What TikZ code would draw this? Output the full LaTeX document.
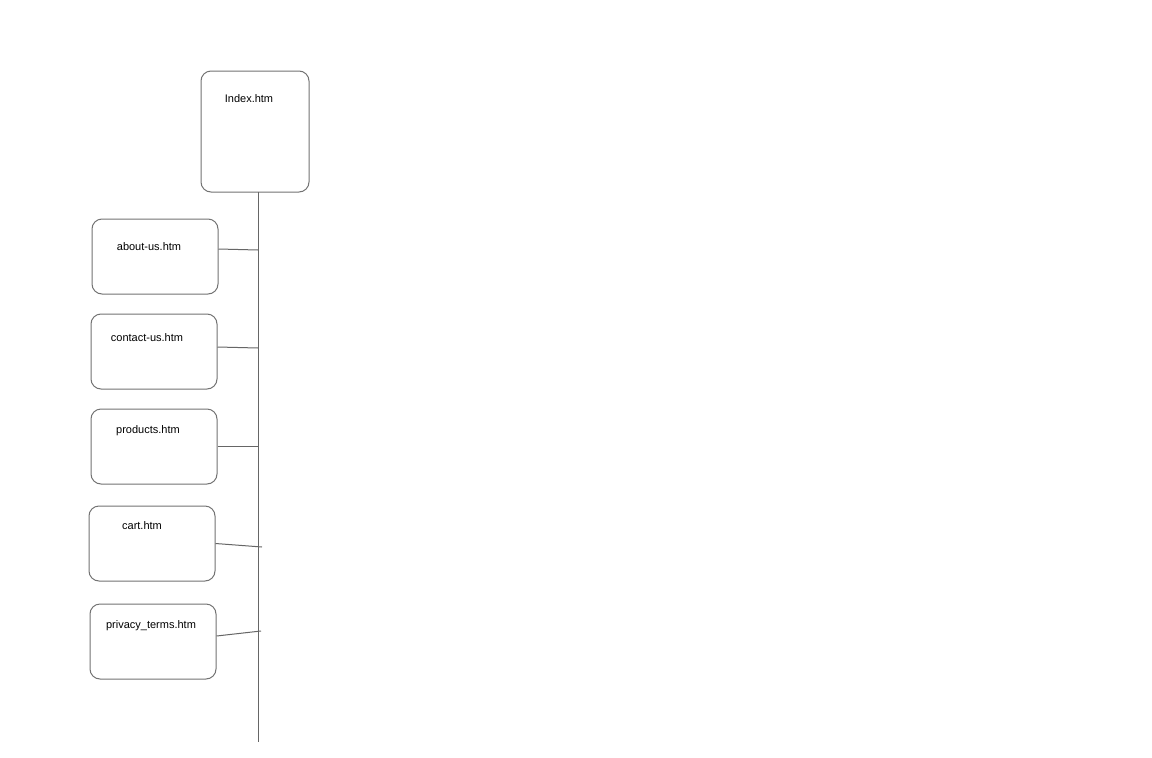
\documentclass[tikz,border=0pt]{standalone}
\usepackage{fontspec}
\setmainfont{Liberation Sans}
\begin{document}
\begin{tikzpicture}[x=1pt,y=-1pt,
  page/.style={draw=black!55, line width=1pt, rounded corners=10pt, inner sep=0pt},
  pagename/.style={font=\fontsize{11}{12}\selectfont, inner sep=0pt},
  link/.style={draw=black!60, line width=1pt}]
  \useasboundingbox[fill=white] (0,0) rectangle (1152,758);

  % home page
  \node[page, minimum width=108pt, minimum height=121pt] (index) at (255,131.5) {};
  \node[pagename] (tindex) at (249,98.5) {Index.htm};

  % sub pages
  \node[page, minimum width=126pt, minimum height=75pt] (about) at (155,256.5) {};
  \node[pagename] (tabout) at (149,246.5) {about-us.htm};
  \node[page, minimum width=126pt, minimum height=75pt] (contact) at (154,351.5) {};
  \node[pagename] (tcontact) at (147,337.5) {contact-us.htm};
  \node[page, minimum width=126pt, minimum height=75pt] (products) at (154,446.5) {};
  \node[pagename] (tproducts) at (148,430.5) {products.htm};
  \node[page, minimum width=126pt, minimum height=75pt] (cart) at (152,543.5) {};
  \node[pagename] (tcart) at (142,525.5) {cart.htm};
  \node[page, minimum width=126pt, minimum height=75pt] (privacy) at (153,641.5) {};
  \node[pagename] (tprivacy) at (151,625.5) {privacy\_terms.htm};

  % spine and branch points
  \coordinate (top) at (258,192);
  \coordinate (bottom) at (258,742);
  \coordinate (j1) at (258,250);
  \coordinate (j2) at (258,348);
  \coordinate (j3) at (258,446);
  \coordinate (j4) at (262,547);
  \coordinate (j5) at (261,631);

  \draw[link] (top) -- (bottom);
  \draw[link] ([yshift=7.5pt]about.east) -- (j1);
  \draw[link] ([yshift=4.5pt]contact.east) -- (j2);
  \draw[link] ([yshift=0.5pt]products.east) -- (j3);
  \draw[link] (cart.east) -- (j4);
  \draw[link] ([yshift=5.5pt]privacy.east) -- (j5);
\end{tikzpicture}
\end{document}
